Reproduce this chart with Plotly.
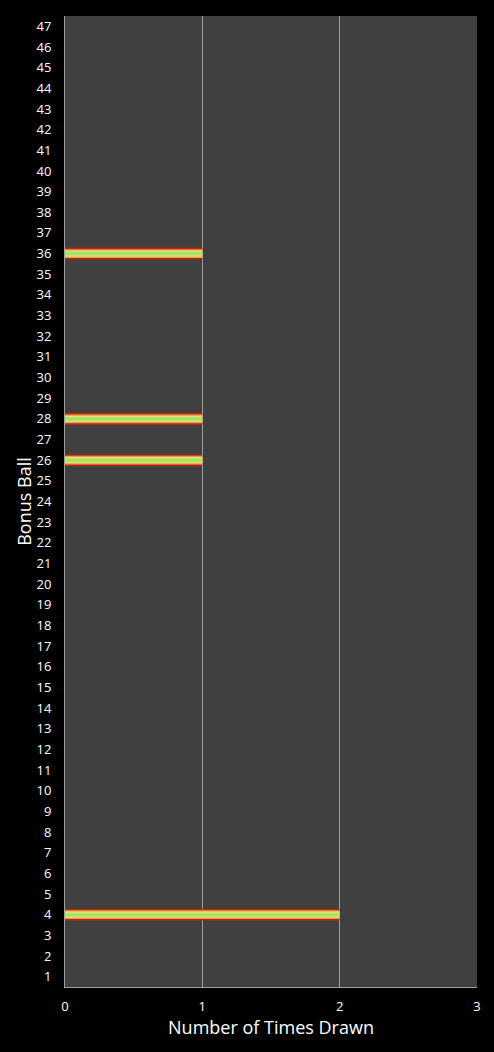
import plotly.graph_objects as go

# bonus ball numbers and how often each was drawn
balls = list(range(1, 48))
drawn = {4: 2, 26: 1, 28: 1, 36: 1}
counts = [drawn.get(b, 0) for b in balls]

x_ticks = [0, 1, 2, 3]

fig = go.Figure()

# fake the gradient fill with stacked bars of shrinking width
layers = [
    ('#c81e1e', 0.56),
    ('#e8a23c', 0.42),
    ('#d8e66a', 0.30),
    ('#a8e070', 0.15),
]
for color, w in layers:
    fig.add_trace(go.Bar(
        y=balls,
        x=counts,
        orientation='h',
        width=w,
        marker=dict(color=color, line=dict(width=0)),
        hoverinfo='skip',
        showlegend=False,
    ))

fig.update_layout(
    width=494,
    height=1052,
    barmode='overlay',
    paper_bgcolor='black',
    plot_bgcolor='#404040',
    margin=dict(l=65, r=17, t=16, b=65),
    font=dict(family='Open Sans, DejaVu Sans', color='white', size=13),
    xaxis=dict(
        range=[0, 3],
        tickvals=x_ticks,
        showgrid=True,
        gridcolor='#a0a0a0',
        gridwidth=1,
        zeroline=False,
        showline=True,
        linecolor='#a0a0a0',
        linewidth=1,
        ticks='',
        ticklabelstandoff=7,
        title=dict(text='Number of Times Drawn', font=dict(size=18), standoff=4),
    ),
    yaxis=dict(
        range=[0.5, 47.5],
        tickvals=balls,
        showgrid=False,
        zeroline=False,
        showline=True,
        linecolor='#a0a0a0',
        linewidth=1,
        ticks='',
        ticklabelstandoff=10,
        title=dict(text='Bonus Ball', font=dict(size=18), standoff=0),
    ),
)

# drop the page margin so the chart sits at the window corner
fig.write_html(
    "out.html",
    config={'displayModeBar': False},
    post_script="document.body.style.margin='0';document.body.style.background='black';",
)
